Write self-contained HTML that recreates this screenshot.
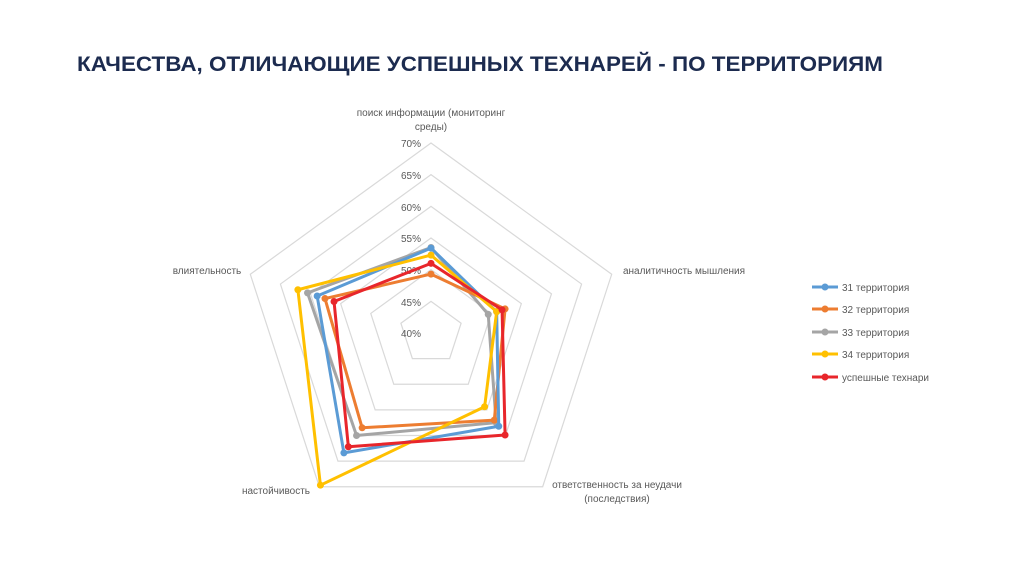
<!DOCTYPE html>
<html><head><meta charset="utf-8"><style>
body{margin:0;background:#fff;width:1024px;height:574px;overflow:hidden;font-family:"Liberation Sans","Noto Sans CJK SC",sans-serif}
</style></head><body>
<svg width="1024" height="574" viewBox="0 0 1024 574" xmlns="http://www.w3.org/2000/svg" font-family="Liberation Sans, sans-serif">
<text x="77" y="71" font-size="21" font-weight="bold" fill="#1c2b4f" textLength="806" lengthAdjust="spacingAndGlyphs">КАЧЕСТВА, ОТЛИЧАЮЩИЕ УСПЕШНЫХ ТЕХНАРЕЙ - ПО ТЕРРИТОРИЯМ</text>
<g fill="none" stroke="#d9d9d9" stroke-width="1.2" id="grid"></g>
<g font-size="10" fill="#595959" text-anchor="end">
<text x="421" y="147">70%</text><text x="421" y="179">65%</text><text x="421" y="211">60%</text><text x="421" y="242">55%</text><text x="421" y="274">50%</text><text x="421" y="306">45%</text><text x="421" y="337">40%</text>
</g>
<g font-size="10" fill="#595959" text-anchor="middle">
<text x="431" y="116">поиск информации (мониторинг</text><text x="431" y="130">среды)</text>
<text x="684" y="274">аналитичность мышления</text>
<text x="617" y="488">ответственность за неудачи</text><text x="617" y="502">(последствия)</text>
<text x="276" y="494">настойчивость</text>
<text x="207" y="274">влиятельность</text>
</g>
<g id="series" fill="none" stroke-width="3" stroke-linejoin="round"></g>
<g font-size="10" fill="#595959">
<line x1="812" y1="287" x2="838" y2="287" stroke="#5b9bd5" stroke-width="3"/><circle cx="825" cy="287" r="3.5" fill="#5b9bd5"/><text x="842" y="291">31 территория</text>
<line x1="812" y1="309" x2="838" y2="309" stroke="#ed7d31" stroke-width="3"/><circle cx="825" cy="309" r="3.5" fill="#ed7d31"/><text x="842" y="313">32 территория</text>
<line x1="812" y1="332" x2="838" y2="332" stroke="#a5a5a5" stroke-width="3"/><circle cx="825" cy="332" r="3.5" fill="#a5a5a5"/><text x="842" y="336">33 территория</text>
<line x1="812" y1="354" x2="838" y2="354" stroke="#ffc000" stroke-width="3"/><circle cx="825" cy="354" r="3.5" fill="#ffc000"/><text x="842" y="358">34 территория</text>
<line x1="812" y1="377" x2="838" y2="377" stroke="#e8262b" stroke-width="3"/><circle cx="825" cy="377" r="3.5" fill="#e8262b"/><text x="842" y="381">успешные технари</text>
</g>
<script>
var cx=431,cy=333,R=190,ns="http://www.w3.org/2000/svg";
function pt(i,v){var r=(v-40)/30*R,a=i*72*Math.PI/180;return[cx+r*Math.sin(a),cy-r*Math.cos(a)];}
var g=document.getElementById('grid');
for(var k=1;k<=6;k++){var p=[];for(var i=0;i<5;i++)p.push(pt(i,40+5*k).join(','));var e=document.createElementNS(ns,'polygon');e.setAttribute('points',p.join(' '));g.appendChild(e);}
var data=[["#a5a5a5",[53.5,49.5,57.5,60,60.5]],["#ed7d31",[49.3,52.3,57,58.5,57.6]],["#5b9bd5",[53.4,50.9,58.2,63.4,58.9]],["#ffc000",[52.3,50.9,54.4,69.7,62.1]],["#e8262b",[51,51.8,59.9,62.2,56.1]]];
var s=document.getElementById('series');
data.forEach(function(d){var p=[];for(var i=0;i<5;i++)p.push(pt(i,d[1][i]));var e=document.createElementNS(ns,'polygon');e.setAttribute('points',p.map(function(q){return q.join(',')}).join(' '));e.setAttribute('stroke',d[0]);s.appendChild(e);
p.forEach(function(q){var c=document.createElementNS(ns,'circle');c.setAttribute('cx',q[0]);c.setAttribute('cy',q[1]);c.setAttribute('r',3.5);c.setAttribute('fill',d[0]);c.setAttribute('stroke','none');s.appendChild(c);});});
</script>
</svg>
</body></html>
